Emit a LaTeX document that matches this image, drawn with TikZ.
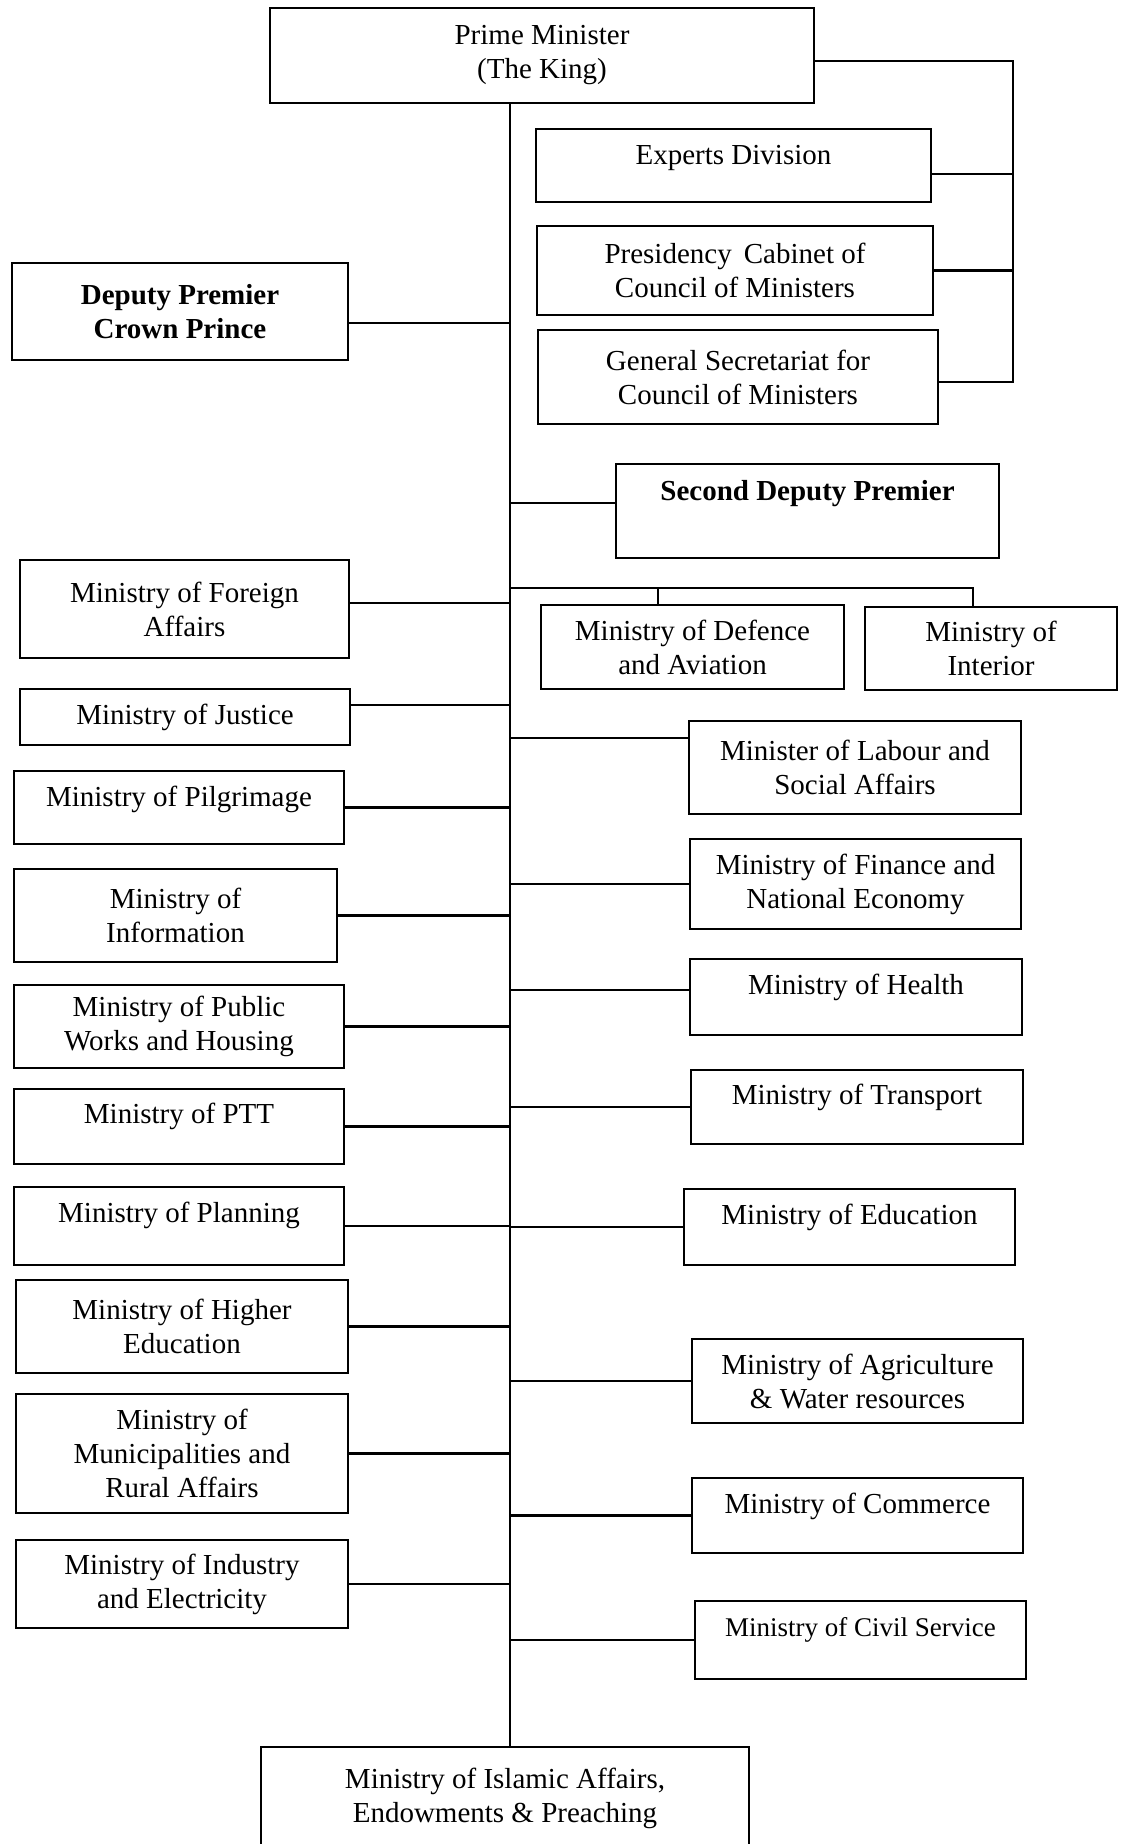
\documentclass[tikz,border=0pt]{standalone}
\usepackage{fontspec}
\setmainfont{Liberation Serif}

\begin{document}
\begin{tikzpicture}
[x=1pt,y=-1pt,
 box/.style={draw=black,line width=2.6pt,inner sep=2pt,align=center,font=\fontsize{29}{34}\selectfont},
 boldbox/.style={box,font=\fontsize{29}{34}\selectfont\bfseries},
 lifted/.style={text height=20pt,text depth=#1},
 link/.style={line width=2.2pt}]
\useasboundingbox (0,0) rectangle (1124,1844);

\coordinate (spine) at (510,0);
\coordinate (rail) at (1013,0);
\coordinate (bus) at (510,588);

% top
\node[box,minimum width=544pt,minimum height=95pt] (pm) at (542,55.5) {Prime Minister\\(The King)};
\node[box,lifted=23pt,minimum width=395pt,minimum height=73pt] (exp) at (733.5,165.5) {Experts Division};
\node[box,minimum width=396pt,minimum height=89pt] (pres) at (735,270.5) {Presidency\, Cabinet of\\Council of Ministers};
\node[box,minimum width=400pt,minimum height=94pt] (gsec) at (738,377) {General Secretariat for\\Council of Ministers};
\node[boldbox,minimum width=336pt,minimum height=97pt] (dep) at (180,311.5) {Deputy Premier\\Crown Prince};
\node[boldbox,lifted=41pt,minimum width=383pt,minimum height=94pt] (sec) at (807.5,511) {Second Deputy Premier};
\node[box,minimum width=303pt,minimum height=84pt] (def) at (692.5,647) {Ministry of Defence\\and Aviation};
\node[box,minimum width=252pt,minimum height=83pt] (int) at (991,648.5) {Ministry of\\Interior};

% left column
\node[box,minimum width=329pt,minimum height=98pt] (for) at (184.5,609) {Ministry of Foreign\\Affairs};
\node[box,minimum width=330pt,minimum height=56pt] (jus) at (185,717) {Ministry of Justice};
\node[box,lifted=23pt,minimum width=330pt,minimum height=73pt] (pil) at (179,807.5) {Ministry of Pilgrimage};
\node[box,minimum width=323pt,minimum height=93pt] (inf) at (175.5,915.5) {Ministry of\\Information};
\node[box,minimum width=330pt,minimum height=83pt] (pub) at (179,1026.5) {Ministry of Public\\Works and Housing};
\node[box,lifted=27pt,minimum width=330pt,minimum height=75pt] (ptt) at (179,1126.5) {Ministry of PTT};
\node[box,lifted=27pt,minimum width=330pt,minimum height=78pt] (pla) at (179,1226) {Ministry of Planning};
\node[box,minimum width=332pt,minimum height=93pt] (hig) at (182,1326.5) {Ministry of Higher\\Education};
\node[box,minimum width=332pt,minimum height=119pt] (mun) at (182,1453.5) {Ministry of\\Municipalities and\\Rural Affairs};
\node[box,minimum width=332pt,minimum height=88pt] (ind) at (182,1584) {Ministry of Industry\\and Electricity};

% right column
\node[box,minimum width=332pt,minimum height=93pt] (lab) at (855,767.5) {Minister of Labour and\\Social Affairs};
\node[box,minimum width=331pt,minimum height=90pt] (fin) at (855.5,884) {Ministry of Finance and\\National Economy};
\node[box,lifted=25pt,minimum width=332pt,minimum height=76pt] (hea) at (856,997) {Ministry of Health};
\node[box,lifted=25pt,minimum width=332pt,minimum height=74pt] (tra) at (857,1107) {Ministry of Transport};
\node[box,lifted=25pt,minimum width=331pt,minimum height=76pt] (edu) at (849.5,1227) {Ministry of Education};
\node[box,minimum width=331pt,minimum height=84pt] (agr) at (857.5,1381) {Ministry of Agriculture\\\& Water resources};
\node[box,lifted=25pt,minimum width=331pt,minimum height=75pt] (com) at (857.5,1515.5) {Ministry of Commerce};
\node[box,lifted=27pt,minimum width=331pt,minimum height=78pt,font=\fontsize{27}{32}\selectfont] (civ) at (860.5,1640) {Ministry of Civil Service};

\node[box,minimum width=488pt,minimum height=103pt] (isl) at (505,1798.5) {Ministry of Islamic Affairs,\\Endowments \& Preaching};

% trunk and branches
\draw [link] (pm.south -| spine) -- (isl.north -| spine);
\draw [link] ([yshift=-5.5pt]pm.east) -| ([yshift=-5pt]rail |- gsec.east) -- ([yshift=-5pt]gsec.east);
\draw [link] ([yshift=-8.5pt]exp.east) -- ([yshift=-8.5pt]exp.east -| rail);
\draw [link] (pres.east) -- (pres.east -| rail);
\draw [link] ([yshift=-11.5pt]dep.east) -- ([yshift=-11.5pt]dep.east -| spine);
\draw [link] ([yshift=8pt]sec.west) -- ([yshift=8pt]sec.west -| spine);
\draw [link] (bus) -| ([xshift=-18pt]int.north);
\draw [link] ([xshift=-34.5pt]def.north) -- ([xshift=-34.5pt]def.north |- bus);

\draw [link] ([yshift=6pt]for.east) -- ([yshift=6pt]for.east -| spine);
\draw [link] ([yshift=12pt]jus.east) -- ([yshift=12pt]jus.east -| spine);
\draw [link] (pil.east) -- (pil.east -| spine);
\draw [link] (inf.east) -- (inf.east -| spine);
\draw [link] (pub.east) -- (pub.east -| spine);
\draw [link] (ptt.east) -- (ptt.east -| spine);
\draw [link] (pla.east) -- (pla.east -| spine);
\draw [link] (hig.east) -- (hig.east -| spine);
\draw [link] (mun.east) -- (mun.east -| spine);
\draw [link] (ind.east) -- (ind.east -| spine);

\draw [link] ([yshift=29.5pt]lab.west) -- ([yshift=29.5pt]lab.west -| spine);
\draw [link] (fin.west) -- (fin.west -| spine);
\draw [link] ([yshift=7pt]hea.west) -- ([yshift=7pt]hea.west -| spine);
\draw [link] (tra.west) -- (tra.west -| spine);
\draw [link] (edu.west) -- (edu.west -| spine);
\draw [link] (agr.west) -- (agr.west -| spine);
\draw [link] (com.west) -- (com.west -| spine);
\draw [link] (civ.west) -- (civ.west -| spine);
\end{tikzpicture}
\end{document}
